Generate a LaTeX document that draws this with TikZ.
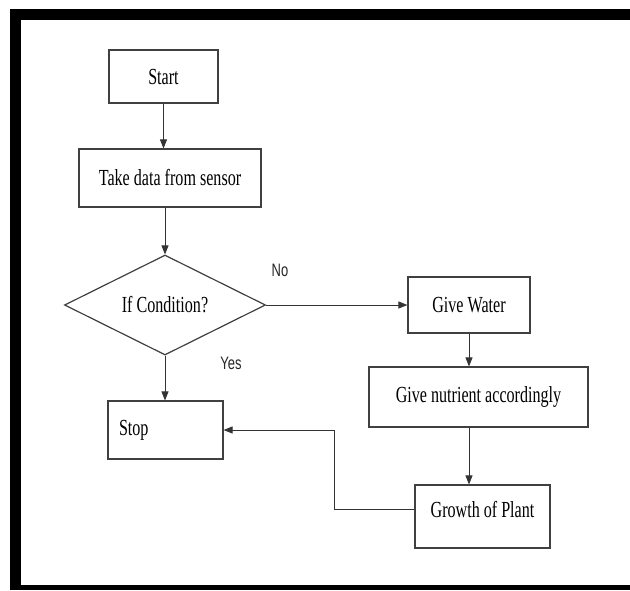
\documentclass[tikz,border=0pt]{standalone}
\usepackage{fontspec}
\setmainfont{Liberation Serif}[FakeStretch=0.7]
\newfontfamily\tagfont{Liberation Sans}[FakeStretch=0.72]
\usetikzlibrary{arrows.meta,positioning,shapes.geometric}

\begin{document}
\begin{tikzpicture}[
  x=1pt, y=-1pt,
  block/.style={draw=black!75, line width=1.2pt, inner sep=0pt, align=center},
  decision/.style={diamond, draw=black!75, line width=1.2pt, aspect=2, inner sep=0pt, minimum width=201pt, minimum height=100pt},
  flow/.style={-{Triangle[length=9pt, width=7pt]}, line width=0.8pt, black!80},
  tag/.style={font=\tagfont\fontsize{18}{21}\selectfont, text=black!85},
  every node/.style={font=\fontsize{23}{26}\selectfont}
]
  % Frame
  \useasboundingbox (0,0) rectangle (630,590);
  \fill[white] (0,0) rectangle (630,590);
  \fill[black] (10,9) rectangle (630,590);
  \fill[white] (21,20) rectangle (630,585);

  % Steps
  \node[block, minimum width=109pt, minimum height=53pt] (start) at (163.5,76.5) {Start};
  \node[block, minimum width=182pt, minimum height=58pt] (take) at (170,178) {Take data from sensor};
  \node[decision] (cond) at (165,305) {If Condition?};
  \node[block, minimum width=115pt, minimum height=58pt, text width=93pt, align=left] (stop) at (165.5,430) {Stop};
  \node[block, minimum width=122pt, minimum height=56pt] (water) at (469,305) {Give Water};
  \node[block, minimum width=219pt, minimum height=60pt] (nutrient) at (478.5,397) {Give nutrient accordingly};
  \node[block, minimum width=135pt, minimum height=63pt, text depth=15pt] (growth) at (482.5,516.5) {Growth of Plant};

  % Branch labels
  \node[tag] (no) at (280,270) {No};
  \node[tag] (yes) at (231,363) {Yes};

  % Connectors
  \draw[flow] (start.south) -- (start.south |- take.north);
  \draw[flow] (cond.north |- take.south) -- (cond.north);
  \draw[flow] (cond.south) -- (stop.north -| cond.south);
  \draw[flow] (cond.east) -- (water.west);
  \draw[flow] (water.south) -- (water.south |- nutrient.north);
  \draw[flow] (water.south |- nutrient.south) -- (water.south |- growth.north);
  \draw[flow] ([yshift=7pt]growth.west) -- ++(-80,0) |- (stop.east);
\end{tikzpicture}
\end{document}
